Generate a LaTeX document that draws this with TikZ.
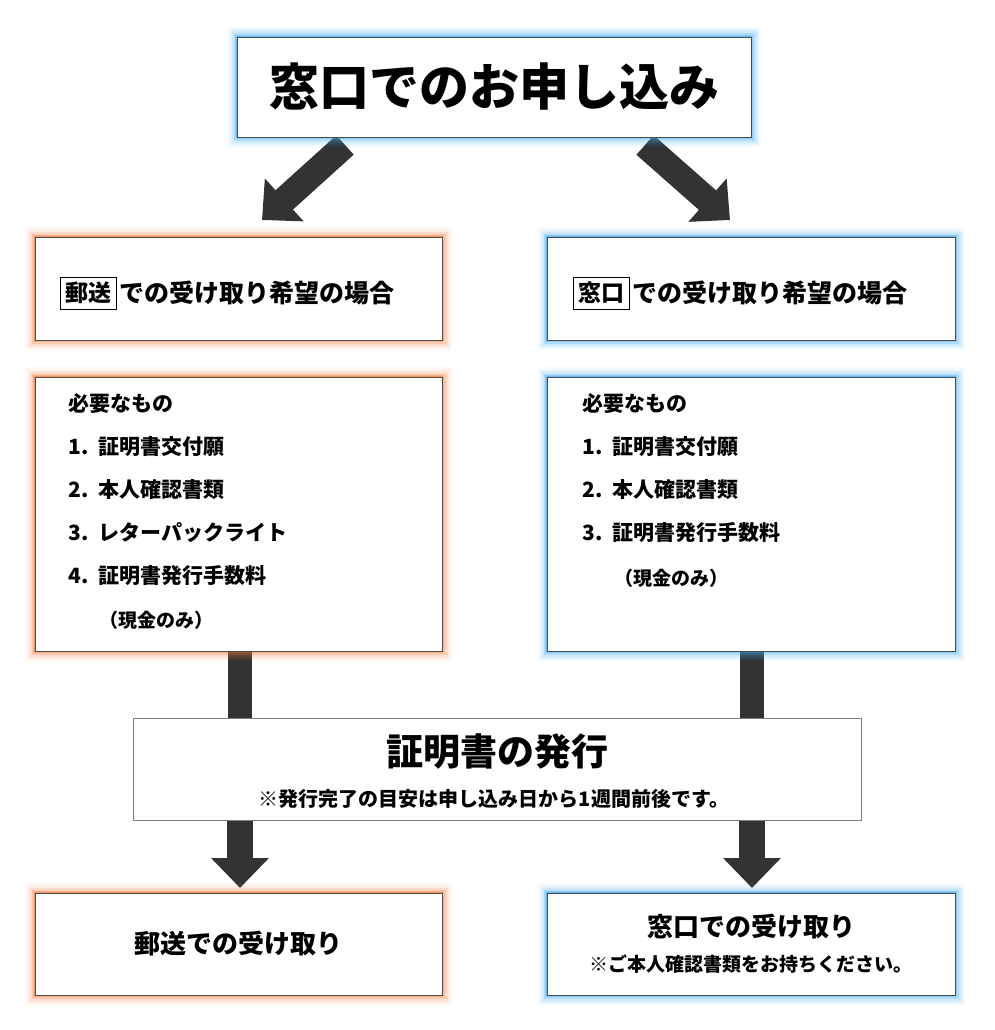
\documentclass[tikz,border=0pt]{standalone}
\usepackage{fontspec}
\setmainfont{Noto Sans CJK JP}
\usetikzlibrary{arrows.meta}
\definecolor{glowblue}{HTML}{3FA9F5}
\definecolor{gloworange}{HTML}{F47A3A}
\definecolor{arrowgray}{HTML}{333333}
\tikzset{
    box/.style={draw=black!70, fill=white, line width=0.8pt, inner sep=0pt},
    bigarrow/.style={draw=arrowgray, line width=26pt, -{Triangle[length=30pt, width=56pt]}},
    bar/.style={draw=arrowgray, line width=24pt},
    listtext/.style={anchor=north west, align=left, font=\bfseries\fontsize{21}{43}\selectfont},
}
% glow frame round a rectangle
\newcommand{\glowbox}[3]{%
  \foreach \w/\o in {20/0.06,15/0.09,11/0.13,7/0.2,4/0.3,2/0.5}
    \draw[#1, line width=\w pt, opacity=\o] #2 rectangle #3;
  \draw[box] #2 rectangle #3;}
\begin{document}
\begin{tikzpicture}[x=1pt, y=-1pt, font=\bfseries]
    \useasboundingbox (0,0) rectangle (994,1030);
    % arrows first
    \draw[bigarrow] (345,145) -- (262,220);
    \draw[bigarrow] (645,145) -- (730,220);
    \draw[bar] (240,651) -- (240,720);
    \draw[bar] (752,651) -- (752,720);
    \draw[bigarrow] (240,818) -- (240,888);
    \draw[bigarrow] (752,818) -- (752,888);
    % boxes
    \glowbox{glowblue}{(237,37)}{(751,137)}
    \node (title) at (494,87) {\fontsize{50}{56}\selectfont 窓口でのお申し込み};
    \glowbox{gloworange}{(35,237)}{(442,340)}
    \node[draw, thin, inner sep=5pt] (mailtag) at (88,293) {\fontsize{23}{26}\selectfont 郵送};
    \node[anchor=west] (mailhead) at (mailtag.east) {\fontsize{25}{28}\selectfont での受け取り希望の場合};
    \glowbox{glowblue}{(547,237)}{(955,340)}
    \node[draw, thin, inner sep=5pt] (deskTag) at (601,293) {\fontsize{23}{26}\selectfont 窓口};
    \node[anchor=west] (deskhead) at (deskTag.east) {\fontsize{25}{28}\selectfont での受け取り希望の場合};
    \glowbox{gloworange}{(35,377)}{(442,651)}
    \node[listtext] (mailneeds) at (65,390) {必要なもの\\ 1.\ \ 証明書交付願\\ 2.\ \ 本人確認書類\\ 3.\ \ レターパックライト\\ 4.\ \ 証明書発行手数料};
    \node[anchor=west] (mailcash) at (96,620) {\fontsize{19}{22}\selectfont （現金のみ）};
    \glowbox{glowblue}{(547,377)}{(955,651)}
    \node[listtext] (deskneeds) at (579,390) {必要なもの\\ 1.\ \ 証明書交付願\\ 2.\ \ 本人確認書類\\ 3.\ \ 証明書発行手数料};
    \node[anchor=west] (deskcash) at (611,578) {\fontsize{19}{22}\selectfont （現金のみ）};
    \draw[box, draw=black!50] (133,718) rectangle (861,820);
    \node (issue) at (497,752) {\fontsize{37}{40}\selectfont 証明書の発行};
    \node (issuenote) at (494,799) {\fontsize{20}{24}\selectfont ※発行完了の目安は申し込み日から1週間前後です。};
    \glowbox{gloworange}{(35,893)}{(442,995)}
    \node (mailget) at (238,944) {\fontsize{26}{30}\selectfont 郵送での受け取り};
    \glowbox{glowblue}{(547,893)}{(955,995)}
    \node (deskget) at (751,927) {\fontsize{26}{30}\selectfont 窓口での受け取り};
    \node (desknote) at (751,964) {\fontsize{19}{22}\selectfont ※ご本人確認書類をお持ちください。};
\end{tikzpicture}
\end{document}
